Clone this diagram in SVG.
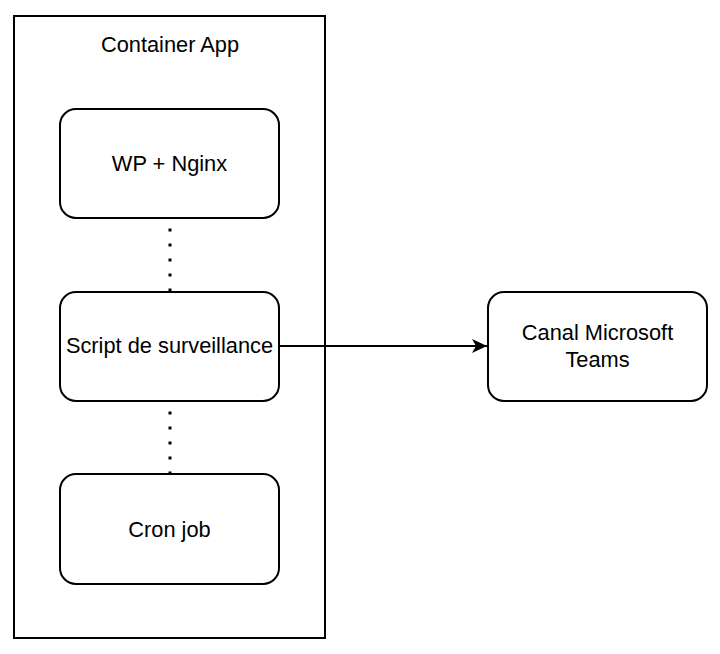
<svg xmlns="http://www.w3.org/2000/svg" width="720" height="654" viewBox="0 0 720 654">
<style>
.box{fill:#fff;stroke:#000;stroke-width:2}
.lbl{font-family:"Liberation Sans",Arial,sans-serif;font-size:21.8px;fill:#000;text-anchor:middle}
.dot{stroke:#000;stroke-width:3;stroke-dasharray:3 12;fill:none}
.edge{stroke:#000;stroke-width:2;fill:none}
</style>
<defs>
<marker id="arr" markerWidth="16" markerHeight="16" refX="15" refY="8" orient="auto" markerUnits="userSpaceOnUse">
<path d="M0,1 L15,8 L0,15 L4,8 Z" fill="#000"/>
</marker>
</defs>
<rect width="720" height="654" fill="#fff"/>
<g id="container">
<rect x="14" y="16" width="311" height="622" fill="#fff" stroke="#000" stroke-width="2"/>
<text class="lbl" x="170" y="52">Container App</text>
</g>
<g id="connectors">
<line class="dot" x1="170" y1="228.5" x2="170" y2="292"/>
<line class="dot" x1="170" y1="411.5" x2="170" y2="474"/>
<line class="edge" x1="279" y1="346" x2="487" y2="346" marker-end="url(#arr)"/>
</g>
<g id="wp">
<rect class="box" x="60" y="109" width="219" height="109" rx="16"/>
<text class="lbl" x="169.5" y="171">WP + Nginx</text>
</g>
<g id="script">
<rect class="box" x="60" y="292" width="219" height="109" rx="16"/>
<text class="lbl" x="169.5" y="353">Script de surveillance</text>
</g>
<g id="cron">
<rect class="box" x="60" y="474" width="219" height="110" rx="16"/>
<text class="lbl" x="169.5" y="537">Cron job</text>
</g>
<g id="teams">
<rect class="box" x="488" y="292" width="219" height="109" rx="16"/>
<text class="lbl" x="597.5" y="340">Canal Microsoft</text>
<text class="lbl" x="597.5" y="367">Teams</text>
</g>
</svg>
